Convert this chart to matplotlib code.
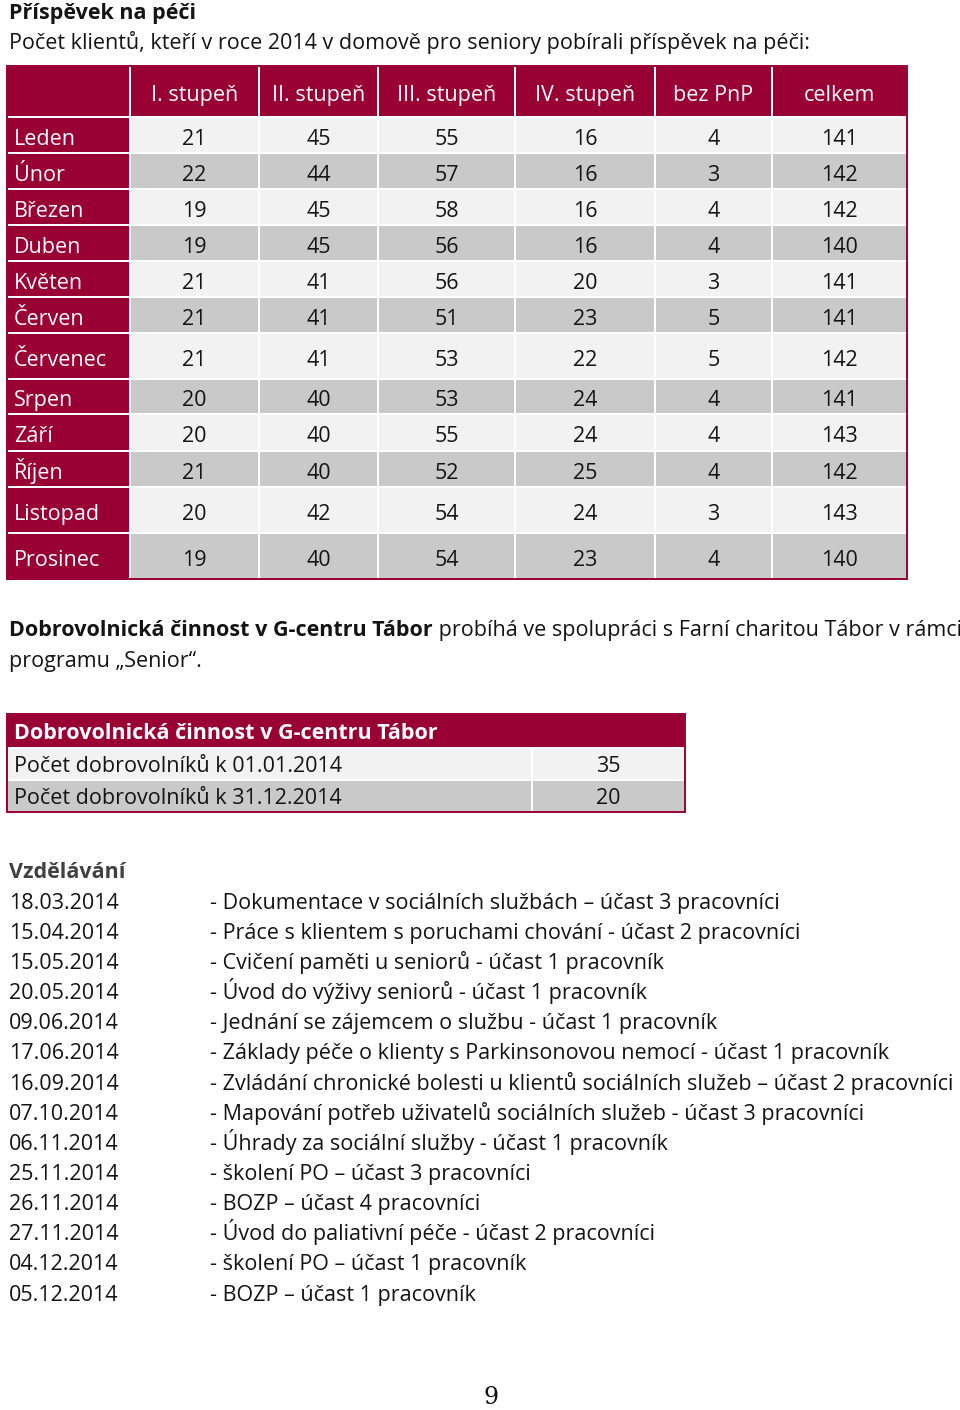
import matplotlib
matplotlib.use("Agg")
import matplotlib.pyplot as plt
from matplotlib.patches import Rectangle

plt.rcParams['font.family'] = ['Open Sans', 'DejaVu Sans']

# --- data ---
title = "Příspěvek na péči"
subtitle = "Počet klientů, kteří v roce 2014 v domově pro seniory pobírali příspěvek na péči:"
col_headers = ["I. stupeň", "II. stupeň", "III. stupeň", "IV. stupeň", "bez PnP", "celkem"]
months = ["Leden", "Únor", "Březen", "Duben", "Květen", "Červen", "Červenec",
          "Srpen", "Září", "Říjen", "Listopad", "Prosinec"]
stupen_1 = [21, 22, 19, 19, 21, 21, 21, 20, 20, 21, 20, 19]
stupen_2 = [45, 44, 45, 45, 41, 41, 41, 40, 40, 40, 42, 40]
stupen_3 = [55, 57, 58, 56, 56, 51, 53, 53, 55, 52, 54, 54]
stupen_4 = [16, 16, 16, 16, 20, 23, 22, 24, 24, 25, 24, 23]
bez_pnp = [4, 3, 4, 4, 3, 5, 5, 4, 4, 4, 3, 4]
celkem = [141, 142, 142, 140, 141, 141, 142, 141, 143, 142, 143, 140]

para_bold = "Dobrovolnická činnost v G-centru Tábor"
para_rest = " probíhá ve spolupráci s Farní charitou Tábor v rámci"
para_line2 = "programu „Senior“."

vol_title = "Dobrovolnická činnost v G-centru Tábor"
vol_labels = ["Počet dobrovolníků k 01.01.2014", "Počet dobrovolníků k 31.12.2014"]
vol_values = [35, 20]

edu_title = "Vzdělávání"
edu_dates = ["18.03.2014", "15.04.2014", "15.05.2014", "20.05.2014", "09.06.2014",
             "17.06.2014", "16.09.2014", "07.10.2014", "06.11.2014", "25.11.2014",
             "26.11.2014", "27.11.2014", "04.12.2014", "05.12.2014"]
edu_items = [
    "- Dokumentace v sociálních službách – účast 3 pracovníci",
    "- Práce s klientem s poruchami chování - účast 2 pracovníci",
    "- Cvičení paměti u seniorů - účast 1 pracovník",
    "- Úvod do výživy seniorů - účast 1 pracovník",
    "- Jednání se zájemcem o službu - účast 1 pracovník",
    "- Základy péče o klienty s Parkinsonovou nemocí - účast 1 pracovník",
    "- Zvládání chronické bolesti u klientů sociálních služeb – účast 2 pracovníci",
    "- Mapování potřeb uživatelů sociálních služeb - účast 3 pracovníci",
    "- Úhrady za sociální služby - účast 1 pracovník",
    "- školení PO – účast 3 pracovníci",
    "- BOZP – účast 4 pracovníci",
    "- Úvod do paliativní péče - účast 2 pracovníci",
    "- školení PO – účast 1 pracovník",
    "- BOZP – účast 1 pracovník",
]
page_number = "9"

# --- style ---
CRIMSON = "#990033"
LIGHT = "#F2F2F2"
GRAY = "#C9C9C9"
TEXT = "#141414"

fig = plt.figure(figsize=(9.6, 14.1), dpi=100)
ax = fig.add_axes([0, 0, 1, 1])
ax.set_xlim(0, 960)
ax.set_ylim(1410, 0)
ax.axis("off")
renderer = fig.canvas.get_renderer()

# fit font size to the width of the subtitle line (about 799 px)
probe = ax.text(9, 41, subtitle, fontsize=16)
w = probe.get_window_extent(renderer).width
fs = 16 * 799 / w
probe.remove()
half_cap = 0.357 * fs * 100 / 72   # half of Open Sans cap height, in px


def put(x, yc, s, **kw):
    """place text so that its cap height is centred on yc (baseline aligned)"""
    kw.setdefault("fontsize", fs)
    kw.setdefault("color", TEXT)
    return ax.text(x, yc + half_cap, s, va="baseline", **kw)


put(9, 11, title, fontweight="bold")
put(9, 41, subtitle)

# --- table 1 ---
col_edges = [7, 130, 259, 378, 515, 655, 772, 907]
row_edges = [66, 117, 153, 189, 225, 261, 297, 333, 379, 414, 451, 487, 533, 579]
g = 1.2
columns = [stupen_1, stupen_2, stupen_3, stupen_4, bez_pnp, celkem]


def cell(x0, x1, y0, y1, color):
    ax.add_patch(Rectangle((x0 + g, y0 + g), x1 - x0 - 2 * g, y1 - y0 - 2 * g,
                           facecolor=color, edgecolor="none"))


# header row
for j in range(len(col_edges) - 1):
    cell(col_edges[j], col_edges[j + 1], row_edges[0], row_edges[1], CRIMSON)
    if j > 0:
        put((col_edges[j] + col_edges[j + 1]) / 2, (row_edges[0] + row_edges[1]) / 2 + 2,
            col_headers[j - 1], color="white", ha="center")

for i, m in enumerate(months):
    y0, y1 = row_edges[i + 1], row_edges[i + 2]
    yc = (y0 + y1) / 2 + 2
    cell(col_edges[0], col_edges[1], y0, y1, CRIMSON)
    put(14, yc, m, color="white")
    bg = LIGHT if i % 2 == 0 else GRAY
    for j, col in enumerate(columns):
        cell(col_edges[j + 1], col_edges[j + 2], y0, y1, bg)
        put((col_edges[j + 1] + col_edges[j + 2]) / 2, yc, str(col[i]), ha="center")

ax.add_patch(Rectangle((col_edges[0], row_edges[0]), col_edges[-1] - col_edges[0],
                       row_edges[-1] - row_edges[0], facecolor="none",
                       edgecolor=CRIMSON, linewidth=1.4))

# --- paragraph ---
t = put(9, 628, para_bold, fontweight="bold")
ax.annotate(para_rest, xy=(1, 0), xycoords=t, fontsize=fs, color=TEXT, va="bottom")
put(9, 659, para_line2)

# --- table 2 ---
t2_x = [7, 532, 685]
t2_y = [714, 748, 780, 812]
cell(t2_x[0], t2_x[2], t2_y[0], t2_y[1], CRIMSON)
put(14, (t2_y[0] + t2_y[1]) / 2, vol_title, fontweight="bold", color="white")
for i, (lab, val) in enumerate(zip(vol_labels, vol_values)):
    y0, y1 = t2_y[i + 1], t2_y[i + 2]
    bg = LIGHT if i % 2 == 0 else GRAY
    cell(t2_x[0], t2_x[1], y0, y1, bg)
    cell(t2_x[1], t2_x[2], y0, y1, bg)
    put(14, (y0 + y1) / 2, lab)
    put((t2_x[1] + t2_x[2]) / 2, (y0 + y1) / 2, str(val), ha="center")
ax.add_patch(Rectangle((t2_x[0], t2_y[0]), t2_x[2] - t2_x[0], t2_y[-1] - t2_y[0],
                       facecolor="none", edgecolor=CRIMSON, linewidth=1.4))

# --- training list ---
put(9, 870, edu_title, fontweight="bold", color="#404040")
for i, (d, item) in enumerate(zip(edu_dates, edu_items)):
    y = 901 + i * 30.15
    put(9, y, d)
    put(210, y, item)

ax.text(491, 1409, page_number, fontsize=fs * 1.1, family="DejaVu Serif", color=TEXT,
        ha="center", va="bottom")

fig.savefig("out.png", dpi=100)
